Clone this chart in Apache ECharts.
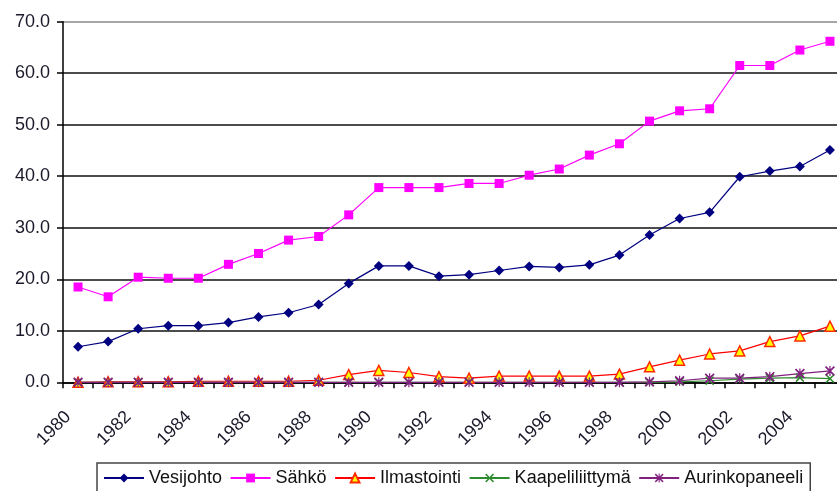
<!DOCTYPE html>
<html>
<head>
<meta charset="utf-8">
<script src="https://cdn.jsdelivr.net/npm/echarts@6/dist/echarts.min.js"></script>
<style>
  html, body { margin: 0; padding: 0; background: #fff; }
  #chart { width: 837px; height: 491px; }
</style>
</head>
<body>
<div id="chart"></div>
<script>
const years = ['1980','1981','1982','1983','1984','1985','1986','1987','1988','1989',
  '1990','1991','1992','1993','1994','1995','1996','1997','1998','1999',
  '2000','2001','2002','2003','2004','2005'];

const vesijohto = [6.9, 7.9, 10.4, 11.0, 11.0, 11.6, 12.7, 13.5, 15.1, 19.2,
  22.6, 22.6, 20.6, 20.9, 21.7, 22.5, 22.3, 22.8, 24.7, 28.6,
  31.8, 33.0, 39.9, 41.0, 41.9, 45.1];
const sahko = [18.5, 16.6, 20.4, 20.2, 20.2, 22.9, 25.0, 27.6, 28.3, 32.5,
  37.8, 37.8, 37.8, 38.6, 38.6, 40.2, 41.4, 44.1, 46.3, 50.7,
  52.7, 53.1, 61.5, 61.5, 64.5, 66.2];
const ilmastointi = [0.0, 0.1, 0.1, 0.1, 0.2, 0.2, 0.2, 0.2, 0.4, 1.5,
  2.3, 1.9, 1.1, 0.8, 1.2, 1.2, 1.2, 1.2, 1.6, 3.0,
  4.3, 5.5, 6.1, 7.9, 9.0, 10.9];
const kaapeliliittyma = [0, 0, 0, 0, 0, 0, 0, 0, 0, 0,
  0, 0, 0, 0, 0, 0, 0, 0, 0, 0.0,
  0.1, 0.3, 0.6, 0.8, 0.9, 0.7];
const aurinkopaneeli = [0, 0, 0, 0, 0, 0, 0, 0, 0, 0,
  0, 0, 0, 0, 0, 0, 0, 0, 0, 0.1,
  0.3, 0.8, 0.8, 1.1, 1.7, 2.2];

const seriesNames = ['Vesijohto', 'Sähkö', 'Ilmastointi', 'Kaapeliliittymä', 'Aurinkopaneeli'];

// thin "x" cross and asterisk marker shapes
const crossPath = 'path://M0,1.2L1.2,0L5,3.8L8.8,0L10,1.2L6.2,5L10,8.8L8.8,10L5,6.2L1.2,10L0,8.8L3.8,5Z';
const starPath = 'path://M0,1.2L1.2,0L5,3.8L8.8,0L10,1.2L6.2,5L10,8.8L8.8,10L5,6.2L1.2,10L0,8.8L3.8,5Z' +
  'M4.4,0L5.6,0L5.6,10L4.4,10Z';

const FONT = '"Liberation Sans", Arial, sans-serif';

const chart = echarts.init(document.getElementById('chart'), null, { renderer: 'canvas' });

function lineSeries(name, data, color, symbol, size, extraItem) {
  return {
    name: name,
    type: 'line',
    data: data,
    symbol: symbol,
    symbolSize: size,
    showAllSymbol: true,
    animation: false,
    lineStyle: { color: color, width: 1.2 },
    itemStyle: Object.assign({ color: color }, extraItem || {}),
    emphasis: { disabled: true }
  };
}

chart.setOption({
  animation: false,
  backgroundColor: '#ffffff',
  grid: {
    left: 63,
    right: -8,
    top: 21.7,
    bottom: 108.7,
    containLabel: false,
    outerBoundsMode: 'none'
  },
  legend: {
    data: seriesNames,
    left: 97,
    top: 463,
    padding: [6, 7, 30, 6],
    itemWidth: 40,
    itemHeight: 11,
    itemGap: 7.5,
    borderColor: '#444',
    borderWidth: 1.5,
    textStyle: { fontFamily: FONT, fontSize: 18, color: '#111' }
  },
  xAxis: {
    type: 'category',
    data: years,
    boundaryGap: true,
    axisLine: { lineStyle: { color: '#000', width: 1.5 } },
    axisTick: { show: true, interval: 0, length: 6, lineStyle: { color: '#000', width: 1.5 } },
    axisLabel: {
      interval: 1,
      rotate: 45,
      margin: 22,
      padding: [0, 14, 0, 0],
      fontFamily: FONT,
      fontSize: 18,
      color: '#1a1a2a'
    },
    splitLine: { show: false }
  },
  yAxis: {
    type: 'value',
    min: 0,
    max: 70,
    interval: 10,
    axisLine: { show: true, lineStyle: { color: '#000', width: 1.5 } },
    axisTick: { show: true, length: 6, lineStyle: { color: '#000', width: 1.5 } },
    axisLabel: {
      margin: 13,
      fontFamily: FONT,
      fontSize: 18,
      color: '#1a1a2a',
      formatter: v => v.toFixed(1)
    },
    splitLine: {
      show: true,
      lineStyle: {
        color: ['#000', '#111', '#111', '#111', '#111', '#111', '#111', '#888'],
        width: 1.6
      }
    }
  },
  series: [
    lineSeries(seriesNames[0], vesijohto, '#000080', 'diamond', 10),
    lineSeries(seriesNames[1], sahko, '#ff00ff', 'rect', 9),
    Object.assign(lineSeries(seriesNames[2], ilmastointi, '#ff0000', 'triangle', 10,
      { color: '#ffff00', borderColor: '#ff2a00', borderWidth: 1.5 }),
      { lineStyle: { color: '#ff0000', width: 1.2 } }),
    lineSeries(seriesNames[3], kaapeliliittyma, '#2e8b2e', crossPath, 9),
    lineSeries(seriesNames[4], aurinkopaneeli, '#80207f', starPath, 10)
  ]
});
</script>
</body>
</html>
